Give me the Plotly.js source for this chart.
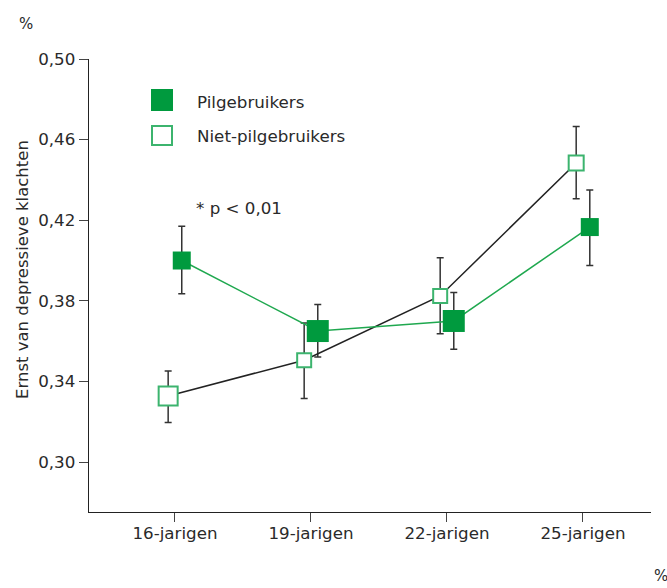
<!DOCTYPE html>
<html>
<head>
<meta charset="utf-8">
<script src="https://cdn.plot.ly/plotly-3.0.1.min.js"></script>
<style>html,body{margin:0;padding:0;background:#fff;}#chart{width:667px;height:588px;}</style>
</head>
<body>
<div id="chart"></div>
<script>
// ---- data ----
const categories = ['16-jarigen', '19-jarigen', '22-jarigen', '25-jarigen'];
const pilValues = [0.400, 0.365, 0.370, 0.4166];
const pilErrPlus = [0.0170, 0.0132, 0.0141, 0.0184];
const pilErrMinus = [0.0165, 0.0129, 0.0140, 0.0191];
const nietValues = [0.3328, 0.3505, 0.3824, 0.4484];
const nietErrPlus = [0.0124, 0.0185, 0.0190, 0.0181];
const nietErrMinus = [0.0132, 0.0190, 0.0187, 0.0177];
const yTickVals = [0.30, 0.34, 0.38, 0.42, 0.46, 0.50];
const yTickText = ['0,30', '0,34', '0,38', '0,42', '0,46', '0,50'];
const seriesNames = ['Pilgebruikers', 'Niet-pilgebruikers'];

// ---- layout geometry ----
const W = 667, H = 588;
const L = 89, R = 651, T = 59, B = 512;
const px = x => (x - L) / (R - L);
const py = y => (B - y) / (B - T);
const catIdx = categories.map((c, i) => i);
const offset = 0.05;
const xPil = catIdx.map(i => i + offset);
const xNiet = catIdx.map(i => i - offset);

const FONT = '"DejaVu Sans", Roboto, sans-serif';
const TXT = '#2a2a2a';
const GREEN = '#009a3e';
const GREEN_LINE = '#1fa84f';
const GREEN_OPEN = '#3cb46e';

function errTrace(x, y, plus, minus) {
  return {
    x: x, y: y, mode: 'markers',
    marker: {size: 1, opacity: 0},
    error_y: {type: 'data', symmetric: false, array: plus, arrayminus: minus, color: '#333', thickness: 1.5, width: 3.5},
    showlegend: false, hoverinfo: 'skip'
  };
}

const traces = [
  errTrace(xNiet, nietValues, nietErrPlus, nietErrMinus),
  errTrace(xPil, pilValues, pilErrPlus, pilErrMinus),
  {
    name: seriesNames[1],
    x: xNiet, y: nietValues,
    mode: 'lines+markers',
    line: {color: '#222', width: 1.5},
    marker: {symbol: 'square', size: [19, 14, 14, 15], color: '#fff', opacity: 1, line: {color: GREEN_OPEN, width: 2}},
    showlegend: false, hoverinfo: 'skip'
  },
  {
    name: seriesNames[0],
    x: xPil, y: pilValues,
    mode: 'lines+markers',
    line: {color: GREEN_LINE, width: 1.5},
    marker: {symbol: 'square', size: [18, 22, 22, 18], color: GREEN, opacity: 1, line: {width: 0}},
    showlegend: false, hoverinfo: 'skip'
  }
];

const layout = {
  width: W, height: H,
  margin: {l: L, r: W - R, t: T, b: H - B, pad: 0},
  paper_bgcolor: '#fff', plot_bgcolor: '#fff',
  font: {family: FONT, size: 16.7, color: TXT},
  showlegend: false,
  xaxis: {
    range: [-0.632, 3.5],
    tickmode: 'array', tickvals: catIdx, ticktext: categories,
    showgrid: false, zeroline: false,
    showline: true, linecolor: '#222', linewidth: 1.3,
    ticks: 'outside', ticklen: 9, tickwidth: 1, tickcolor: '#444',
    ticklabelstandoff: -3,
    tickfont: {family: FONT, size: 16.7, color: TXT}
  },
  yaxis: {
    range: [0.2752, 0.5],
    tickmode: 'array', tickvals: yTickVals, ticktext: yTickText,
    showgrid: false, zeroline: false,
    showline: true, linecolor: '#222', linewidth: 1.3,
    ticks: 'outside', ticklen: 9, tickwidth: 1, tickcolor: '#444',
    tickfont: {family: FONT, size: 16.7, color: TXT}
  },
  shapes: [
    {type: 'rect', xref: 'paper', yref: 'paper', x0: px(151), x1: px(173), y0: py(111), y1: py(89), fillcolor: GREEN, line: {width: 0}},
    {type: 'rect', xref: 'paper', yref: 'paper', x0: px(152), x1: px(172), y0: py(145), y1: py(126), fillcolor: '#fff', line: {color: GREEN_OPEN, width: 2}}
  ],
  annotations: [
    {text: seriesNames[0], xref: 'paper', yref: 'paper', x: px(195), y: py(102), xanchor: 'left', yanchor: 'middle', showarrow: false, font: {size: 16.7}},
    {text: seriesNames[1], xref: 'paper', yref: 'paper', x: px(195), y: py(136), xanchor: 'left', yanchor: 'middle', showarrow: false, font: {size: 16.7}},
    {text: '* p < 0,01', xref: 'paper', yref: 'paper', x: px(194), y: py(208), xanchor: 'left', yanchor: 'middle', showarrow: false, font: {size: 16.7}},
    {text: '%', xref: 'paper', yref: 'paper', x: px(26), y: py(24), xanchor: 'center', yanchor: 'middle', showarrow: false, font: {size: 15}},
    {text: '%', xref: 'paper', yref: 'paper', x: px(661), y: py(576), xanchor: 'center', yanchor: 'middle', showarrow: false, font: {size: 15}},
    {text: 'Ernst van depressieve klachten', xref: 'paper', yref: 'paper', x: px(22), y: py(270), xanchor: 'center', yanchor: 'middle', textangle: -90, showarrow: false, font: {size: 16.5}}
  ]
};

Plotly.newPlot('chart', traces, layout, {displayModeBar: false, staticPlot: true});
</script>
</body>
</html>
